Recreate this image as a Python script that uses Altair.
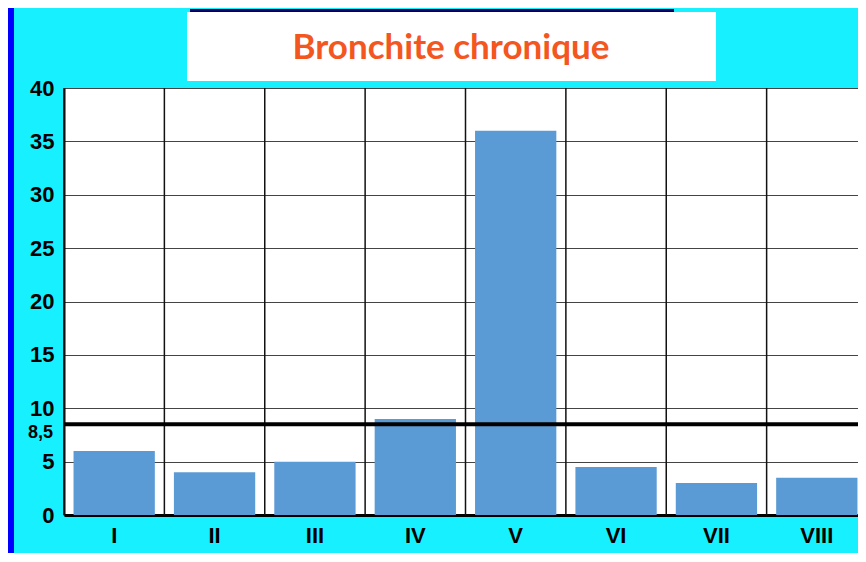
import altair as alt
import pandas as pd

categories = ["I", "II", "III", "IV", "V", "VI", "VII", "VIII"]
values = [6, 4, 5, 9, 36, 4.5, 3, 3.5]
threshold = [8.5]
threshold_label = ["8,5"]
y_ticks = [0, 5, 10, 15, 20, 25, 30, 35, 40]
title_text = "Bronchite chronique"

df = pd.DataFrame({"cat": categories, "val": values})
thr = pd.DataFrame({"v": threshold, "lab": threshold_label})
one = alt.Data(values=[{}])

PLOT_W = 794
BAND_RANGE = 803
PLOT_H = 427
xscale = alt.Scale(domain=categories, range=[0, BAND_RANGE], paddingInner=0, paddingOuter=0)
yscale = alt.Scale(domain=[0, 40], nice=False)

xaxis = alt.Axis(title=None, labelAngle=0, ticks=False, grid=False,
                 labelFont="Liberation Sans", labelFontWeight="bold",
                 labelFontSize=22, labelColor="black", labelPadding=10,
                 domainColor="black", domainWidth=3)
yaxis = alt.Axis(title=None, values=y_ticks, ticks=False, grid=True,
                 gridColor="#444", gridWidth=1.2,
                 labelFont="Liberation Sans", labelFontWeight="bold",
                 labelFontSize=22, labelColor="black", labelPadding=10,
                 domainColor="black", domainWidth=2)

bars = alt.Chart(df).mark_bar(color="#5B9BD5", width=alt.RelativeBandSize(0.81)).encode(
    x=alt.X("cat:N", scale=xscale, sort=categories, axis=xaxis),
    y=alt.Y("val:Q", scale=yscale, axis=yaxis),
)

grid_v = alt.Chart(df).mark_rule(color="#111", strokeWidth=1.5).encode(
    x=alt.X("cat:N", bandPosition=0, scale=xscale, sort=categories, axis=xaxis),
    y=alt.value(0), y2=alt.value(PLOT_H),
)

thr_rule = alt.Chart(thr).mark_rule(color="black", strokeWidth=4).encode(
    y=alt.Y("v:Q", scale=yscale, axis=yaxis), x=alt.value(0), x2=alt.value(PLOT_W),
)
thr_text = alt.Chart(thr).mark_text(align="right", baseline="middle", dy=9,
                                    font="Liberation Sans", fontWeight="bold",
                                    fontSize=18, color="black").encode(
    y=alt.Y("v:Q", scale=yscale, axis=yaxis), x=alt.value(-11), text="lab:N",
)

title_box = alt.Chart(one).mark_rect(color="white").encode(
    x=alt.value(123), x2=alt.value(652), y=alt.value(-76), y2=alt.value(-7),
)
title_line = alt.Chart(one).mark_rule(color="#000066", strokeWidth=3).encode(
    x=alt.value(126), x2=alt.value(610), y=alt.value(-77.5),
)
title = alt.Chart(pd.DataFrame({"t": [title_text]})).mark_text(
    font="Lato", fontWeight="bold", fontSize=35, color="#F4561F",
    align="center", baseline="alphabetic").encode(
    x=alt.value(387), y=alt.value(-29), text="t:N",
)
stripe = alt.Chart(one).mark_rect(color="#0000FF").encode(
    x=alt.value(-56), x2=alt.value(-50), y=alt.value(-80), y2=alt.value(480),
)

chart = alt.layer(grid_v, bars, thr_rule, thr_text, stripe, title_box, title_line, title).properties(
    width=PLOT_W, height=PLOT_H,
    padding={"left": 56, "top": 80, "right": 0, "bottom": 38},
    autosize=alt.AutoSizeParams(type="none"),
    background="#17F1FF",
).configure_view(stroke=None, fill="white")

chart.save("out.html", embed_options={"renderer": "svg", "actions": False})
